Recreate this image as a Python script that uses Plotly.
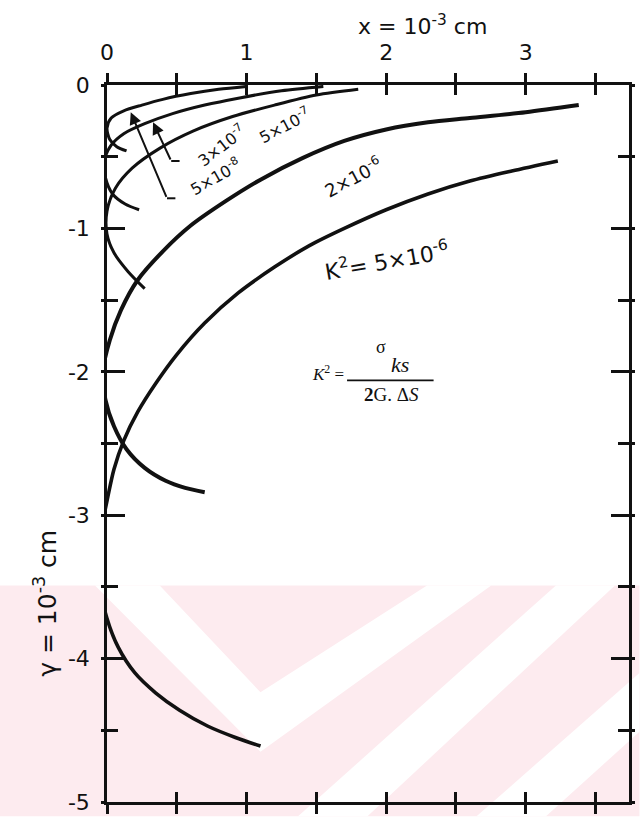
import plotly.graph_objects as go

# Curves for each K^2 value; x and y in units of 1e-3 cm (y measured downward, negative)
x_5e8 = [1.00, 0.80, 0.60, 0.40, 0.25, 0.12, 0.03, 0.00, 0.02, 0.07, 0.14]
y_5e8 = [-0.01, -0.03, -0.06, -0.10, -0.14, -0.18, -0.23, -0.30, -0.38, -0.43, -0.46]

x_3e7 = [1.55, 1.25, 0.95, 0.70, 0.47, 0.27, 0.12, 0.03, -0.02, -0.01, 0.04, 0.13, 0.23]
y_3e7 = [-0.01, -0.04, -0.09, -0.14, -0.20, -0.27, -0.34, -0.42, -0.53, -0.65, -0.76, -0.83, -0.87]

x_5e7 = [1.80, 1.50, 1.20, 0.90, 0.62, 0.38, 0.18, 0.06, 0.00, 0.00, 0.05, 0.15, 0.27]
y_5e7 = [-0.03, -0.07, -0.14, -0.22, -0.32, -0.44, -0.58, -0.72, -0.88, -1.04, -1.17, -1.30, -1.42]

x_2e6 = [3.38, 3.00, 2.60, 2.30, 2.00, 1.70, 1.40, 1.10, 0.85, 0.60, 0.40, 0.22, 0.10, 0.02,
         -0.03, -0.01, 0.05, 0.14, 0.27, 0.42, 0.56, 0.70]
y_2e6 = [-0.14, -0.19, -0.23, -0.26, -0.31, -0.39, -0.51, -0.66, -0.81, -0.98, -1.16, -1.36, -1.57, -1.78,
         -2.00, -2.20, -2.38, -2.54, -2.67, -2.76, -2.81, -2.84]

x_5e6 = [3.23, 2.90, 2.60, 2.30, 2.00, 1.70, 1.45, 1.20, 0.94, 0.70, 0.50, 0.35, 0.22, 0.12, 0.05,
         0.00, -0.04, -0.06, -0.05, 0.00, 0.08, 0.20, 0.35, 0.52, 0.72, 0.92, 1.10]
y_5e6 = [-0.53, -0.60, -0.67, -0.76, -0.87, -1.00, -1.12, -1.27, -1.45, -1.66, -1.88, -2.08, -2.28, -2.48, -2.68,
         -2.90, -3.10, -3.30, -3.50, -3.72, -3.92, -4.10, -4.24, -4.36, -4.47, -4.55, -4.61]

curves = [
    (x_5e8, y_5e8, 3.0),
    (x_3e7, y_3e7, 3.0),
    (x_5e7, y_5e7, 3.0),
    (x_2e6, y_2e6, 4.0),
    (x_5e6, y_5e6, 3.6),
]

# Axis ticks and labels
x_tickvals = [0, 1, 2, 3]
x_ticktext = ["0", "1", "2", "3"]
y_tickvals = [0, -1, -2, -3, -4, -5]
y_ticktext = ["0", "-1", "-2", "-3", "-4", "-5"]

# Curve labels: text, x, y, angle, size
label_text = ["3×10<sup>-7</sup>", "5×10<sup>-8</sup>", "5×10<sup>-7</sup>", "2×10<sup>-6</sup>",
              "K<sup>2</sup>= 5×10<sup>-6</sup>"]
label_x = [0.82, 0.78, 1.27, 1.76, 2.0]
label_y = [-0.42, -0.64, -0.28, -0.64, -1.22]
label_angle = [-38, -30, -28, -28, -10]
label_size = [16, 16, 16, 18, 22]

INK = "#111111"
HAND = "DejaVu Sans"

fig = go.Figure()

# Pale watermark band at the bottom of the page
pink = "#fdebef"
fig.add_shape(type="rect", xref="paper", yref="paper", x0=-0.21, x1=1.02, y0=-0.02, y1=0.302,
              fillcolor=pink, line_width=0, layer="below")
# white chevron and stripes cut through the band
wm_paths = [
    "M -0.023 0.302 L 0.101 0.302 L 0.294 0.153 L 0.613 0.302 L 0.736 0.302 L 0.294 0.070 Z",
    "M 0.366 -0.02 L 0.499 -0.02 L 0.973 0.302 L 0.860 0.302 Z",
    "M 0.708 -0.02 L 0.841 -0.02 L 1.02 0.098 L 1.02 0.180 Z",
]
for p in wm_paths:
    fig.add_shape(type="path", xref="paper", yref="paper", path=p,
                  fillcolor="white", line_width=0, layer="below")

for xs, ys, w in curves:
    fig.add_trace(go.Scatter(x=xs, y=ys, mode="lines",
                             line=dict(color=INK, width=w, shape="spline", smoothing=0.8),
                             hoverinfo="skip", showlegend=False))

# helper trace so the overlaid tick axes are drawn
fig.add_trace(go.Scatter(x=[None], y=[None], xaxis="x2", yaxis="y2", mode="lines",
                         hoverinfo="skip", showlegend=False))

# Leader lines from the two small labels to their curves
leaders = [
    ([0.52, 0.46, 0.33], [-0.53, -0.53, -0.26]),
    ([0.49, 0.43, 0.17], [-0.79, -0.79, -0.19]),
]
for lx, ly in leaders:
    fig.add_trace(go.Scatter(x=lx[:2], y=ly[:2], mode="lines", line=dict(color=INK, width=2),
                             hoverinfo="skip", showlegend=False))
    fig.add_annotation(x=lx[2], y=ly[2], ax=lx[1], ay=ly[1], axref="x", ayref="y",
                       xref="x", yref="y", text="", showarrow=True, arrowhead=2,
                       arrowsize=1.2, arrowwidth=2, arrowcolor=INK)

for t, x, y, a, s in zip(label_text, label_x, label_y, label_angle, label_size):
    fig.add_annotation(x=x, y=y, xref="x", yref="y", text=t, textangle=a, showarrow=False,
                       xanchor="center", yanchor="middle",
                       font=dict(family=HAND, size=s, color=INK))

# Formula for K^2
serif = "Liberation Serif"
fig.add_annotation(x=1.58, y=-2.01, xref="x", yref="y", text="<i>K</i><sup>2</sup> =",
                   showarrow=False, xanchor="center", yanchor="middle",
                   font=dict(family=serif, size=17, color=INK))
fig.add_annotation(x=1.96, y=-1.83, xref="x", yref="y", text="σ",
                   showarrow=False, xanchor="center", yanchor="middle",
                   font=dict(family=serif, size=18, color=INK))
fig.add_annotation(x=2.10, y=-1.95, xref="x", yref="y", text="<i>ks</i>",
                   showarrow=False, xanchor="center", yanchor="middle",
                   font=dict(family=serif, size=22, color=INK))
fig.add_annotation(x=2.04, y=-2.16, xref="x", yref="y", text="<b>2</b>G. Δ<i>S</i>",
                   showarrow=False, xanchor="center", yanchor="middle",
                   font=dict(family=serif, size=19, color=INK))
fig.add_shape(type="line", xref="x", yref="y", x0=1.72, x1=2.34, y0=-2.06, y1=-2.06,
              line=dict(color=INK, width=1.8))

# Axis titles
fig.add_annotation(xref="paper", yref="paper", x=0.605, y=1.083, showarrow=False,
                   xanchor="center", yanchor="middle",
                   text="x = 10<sup>-3</sup> cm",
                   font=dict(family=HAND, size=22, color=INK))
fig.add_annotation(xref="paper", yref="paper", x=-0.118, y=0.277, showarrow=False, textangle=-90,
                   xanchor="center", yanchor="middle",
                   text="γ = 10<sup>-3</sup> cm",
                   font=dict(family=HAND, size=25, color=INK))

axis_font = dict(family=HAND, size=22, color=INK)
fig.update_layout(
    width=643, height=824,
    margin=dict(l=107, r=9, t=85, b=13),
    paper_bgcolor="white", plot_bgcolor="rgba(0,0,0,0)",
    showlegend=False,
    xaxis=dict(range=[0, 3.74], side="top", showgrid=False, zeroline=False,
               showline=True, linecolor=INK, linewidth=3, mirror="ticks",
               tickmode="array", tickvals=x_tickvals, ticktext=x_ticktext,
               ticks="outside", ticklen=9, tickwidth=2.5, tickcolor=INK,
               minor=dict(dtick=0.5, tick0=0, ticks="outside", ticklen=9, tickwidth=2.5, tickcolor=INK),
               tickfont=axis_font, ticklabelstandoff=4),
    xaxis2=dict(range=[0, 3.74], overlaying="x", side="top", anchor="y", showgrid=False, zeroline=False,
                showline=False, mirror="ticks", tickmode="linear", dtick=0.5, tick0=0,
                ticks="inside", ticklen=10, tickwidth=2.5, tickcolor=INK, showticklabels=False),
    yaxis=dict(range=[-5, 0], showgrid=False, zeroline=False,
               showline=True, linecolor=INK, linewidth=2.5, mirror="ticks",
               tickmode="array", tickvals=y_tickvals, ticktext=y_ticktext,
               ticks="inside", ticklen=18, tickwidth=3, tickcolor=INK,
               minor=dict(dtick=0.5, tick0=0, ticks="inside", ticklen=11, tickwidth=3, tickcolor=INK),
               tickfont=axis_font, ticklabelstandoff=10),
    yaxis2=dict(range=[-5, 0], overlaying="y", side="right", anchor="x", showgrid=False, zeroline=False,
                showline=False, mirror="ticks", tickmode="linear", dtick=0.5, tick0=0,
                ticks="outside", ticklen=5, tickwidth=3, tickcolor=INK, showticklabels=False),
)

fig.write_html("out.html")
